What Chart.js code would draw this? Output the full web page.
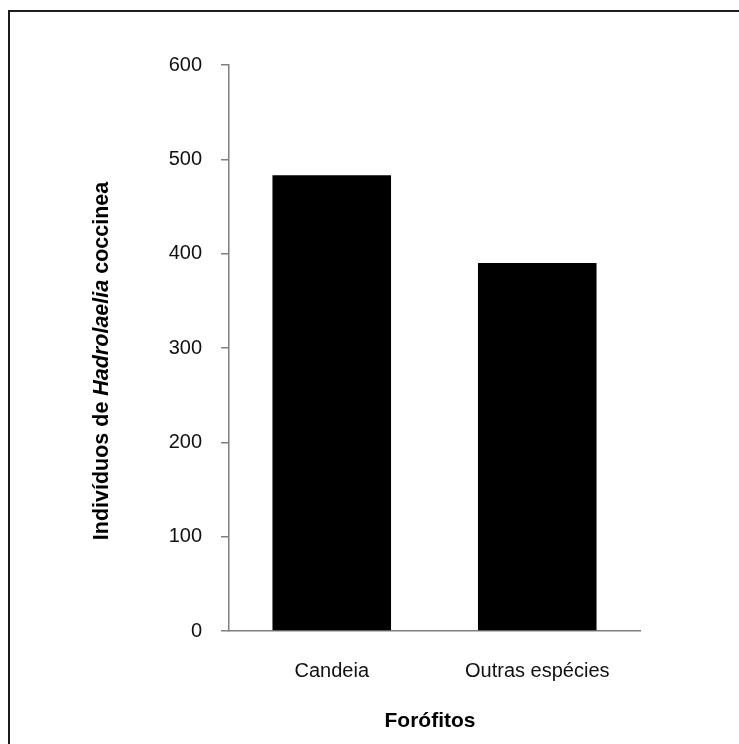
<!DOCTYPE html>
<html>
<head>
<meta charset="utf-8">
<script src="https://cdn.jsdelivr.net/npm/chart.js@4.4.1/dist/chart.umd.min.js"></script>
<style>
    html, body { margin: 0; padding: 0; background: #fff; overflow: hidden; }
    #frame {
        position: absolute; left: 8px; top: 10px;
        width: 800px; height: 800px;
        border: 2px solid #1c1c1c;
    }
    #chart { position: absolute; left: 0; top: 0; }
</style>
</head>
<body>
<div id="frame"></div>
<canvas id="chart" width="739" height="744"></canvas>
<script>
// Data
const categories = ['Candeia', 'Outras espécies'];
const individuals = [483, 390];
const yTicks = [0, 100, 200, 300, 400, 500, 600];

const FONT = 'Liberation Sans, Arial, sans-serif';

// Axis titles (y title mixes bold and bold italic)
const axisTitles = {
    id: 'axisTitles',
    afterDraw(chart) {
        const ctx = chart.ctx;
        ctx.save();
        ctx.fillStyle = '#000';
        ctx.textBaseline = 'middle';

        // x title
        ctx.font = 'bold 21px ' + FONT;
        ctx.textAlign = 'center';
        ctx.fillText('Forófitos', 430, 721);

        // y title, rotated
        const parts = [
            { text: 'Indivíduos de ', font: 'bold 21.5px ' + FONT },
            { text: 'Hadrolaelia', font: 'italic bold 21.5px ' + FONT },
            { text: ' coccinea', font: 'bold 21.5px ' + FONT }
        ];
        let total = 0;
        parts.forEach(p => { ctx.font = p.font; p.w = ctx.measureText(p.text).width; total += p.w; });
        ctx.translate(102, 361);
        ctx.rotate(-Math.PI / 2);
        ctx.textAlign = 'left';
        let x = -total / 2;
        parts.forEach(p => { ctx.font = p.font; ctx.fillText(p.text, x, 0); x += p.w; });
        ctx.restore();
    }
};

const ctx = document.getElementById('chart').getContext('2d');
new Chart(ctx, {
    type: 'bar',
    data: {
        labels: categories,
        datasets: [{
            data: individuals,
            backgroundColor: '#000',
            borderWidth: 0,
            barPercentage: 0.577,
            categoryPercentage: 1
        }]
    },
    options: {
        responsive: false,
        animation: false,
        layout: { padding: { top: 65, right: 99, left: 0, bottom: 0 } },
        plugins: {
            legend: { display: false },
            tooltip: { enabled: false }
        },
        scales: {
            x: {
                grid: { display: false, drawTicks: false },
                border: { display: true, color: '#808080', width: 1.5 },
                ticks: { color: '#111', padding: 28, font: { family: FONT, size: 20 } },
                afterFit(scale) { scale.height = 113; }
            },
            y: {
                min: 0,
                max: 600,
                afterBuildTicks(scale) { scale.ticks = yTicks.map(v => ({ value: v })); },
                grid: { drawOnChartArea: false, drawTicks: true, tickLength: 8, color: '#808080', lineWidth: 1.5 },
                border: { display: true, color: '#808080', width: 1.5 },
                ticks: { color: '#111', padding: 19, font: { family: FONT, size: 20 } },
                afterFit(scale) { scale.width = 229; }
            }
        }
    },
    plugins: [axisTitles]
});
</script>
</body>
</html>
